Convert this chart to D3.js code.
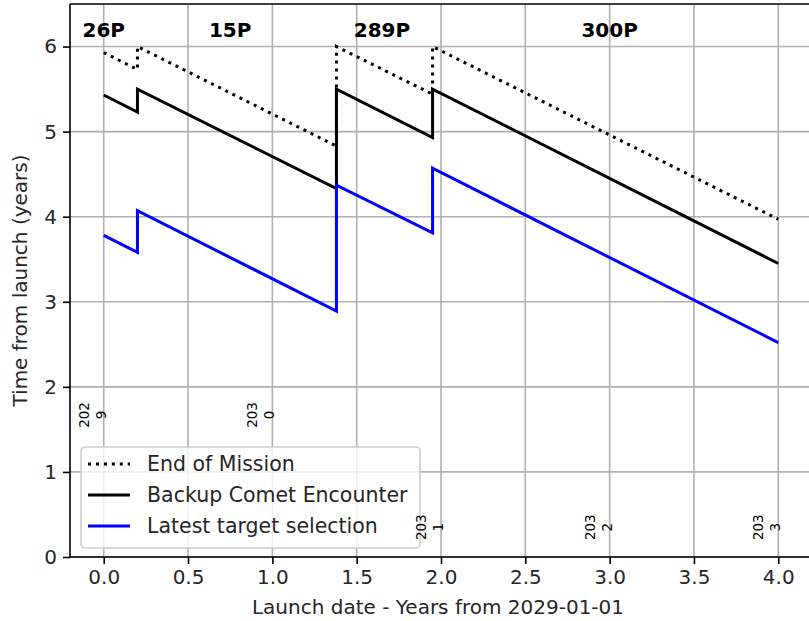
<!DOCTYPE html>
<html>
<head>
<meta charset="utf-8">
<script src="https://cdnjs.cloudflare.com/ajax/libs/d3/7.8.5/d3.min.js"></script>
<style>
  body { margin: 0; background: #fff; }
  svg { font-family: 'DejaVu Sans', sans-serif; }
</style>
</head>
<body>
<div id="chart"></div>
<script>
// launch date (years from 2029-01-01), vertical steps repeat the x value
var launchYears = [0, 0.2, 0.2, 1.38, 1.38, 1.95, 1.95, 4.0]
var endOfMission = [5.93, 5.73, 6.0, 4.83, 6.0, 5.44, 6.0, 3.97]
var backupEncounter = [5.43, 5.23, 5.5, 4.33, 5.5, 4.93, 5.5, 3.45]
var latestSelection = [3.78, 3.58, 4.07, 2.89, 4.37, 3.81, 4.57, 2.52]

var cometNames = ['26P', '15P', '289P', '300P']
var cometX = [0.0, 0.75, 1.65, 3.0]
var cometY = 6.2

var yearNames = ['2029', '2030', '2031', '2032', '2033']
var yearX = [0, 1, 2, 3, 4]
var yearY = [1.67, 1.67, 0.35, 0.35, 0.35]

var xTicks = [0, 0.5, 1, 1.5, 2, 2.5, 3, 3.5, 4]
var yTicks = [0, 1, 2, 3, 4, 5, 6]

var seriesNames = ['End of Mission', 'Backup Comet Encounter', 'Latest target selection']

var width = 809, height = 621
var margin = {top: 4, right: -3, bottom: 64, left: 70}

var svg = d3.select('#chart').append('svg').attr('width', width).attr('height', height)

var x_scale = d3.scaleLinear().domain([-0.2, 4.2]).range([margin.left, width - margin.right])
var y_scale = d3.scaleLinear().domain([0, 6.5]).range([height - margin.bottom, margin.top])

var plot = svg.append('g')

// grid
plot.selectAll('.vgrid').data(xTicks).enter().append('line')
  .attr('x1', d => x_scale(d)).attr('x2', d => x_scale(d))
  .attr('y1', y_scale(0)).attr('y2', y_scale(6.5))
  .attr('stroke', '#b0b0b0').attr('stroke-width', 1.6)
plot.selectAll('.hgrid').data(yTicks).enter().append('line')
  .attr('x1', x_scale(-0.2)).attr('x2', x_scale(4.2))
  .attr('y1', d => y_scale(d)).attr('y2', d => y_scale(d))
  .attr('stroke', '#b0b0b0').attr('stroke-width', 1.6)

var line = d3.line().x(d => x_scale(d[0])).y(d => y_scale(d[1]))
function pts(ys) { return launchYears.map((v, i) => [v, ys[i]]) }

plot.append('path').datum(pts(endOfMission)).attr('d', line)
  .attr('fill', 'none').attr('stroke', '#000').attr('stroke-width', 3).attr('stroke-dasharray', '3,4.95')
plot.append('path').datum(pts(backupEncounter)).attr('d', line)
  .attr('fill', 'none').attr('stroke', '#000').attr('stroke-width', 3)
plot.append('path').datum(pts(latestSelection)).attr('d', line)
  .attr('fill', 'none').attr('stroke', '#0000ff').attr('stroke-width', 3)

// comet names
plot.selectAll('.comet').data(cometNames).enter().append('text')
  .attr('x', (d, i) => x_scale(cometX[i])).attr('y', y_scale(cometY))
  .attr('text-anchor', 'middle').attr('dominant-baseline', 'central')
  .style('font-size', '20px').style('font-weight', 'bold').text(d => d)

// axes
var x_axis = d3.axisBottom(x_scale).tickValues(xTicks).tickFormat(d3.format('.1f')).tickSize(7).tickPadding(6)
var y_axis = d3.axisLeft(y_scale).tickValues(yTicks).tickFormat(d3.format('d')).tickSize(7).tickPadding(6)
var gx = svg.append('g').attr('transform', `translate(0,${y_scale(0)})`).call(x_axis)
var gy = svg.append('g').attr('transform', `translate(${x_scale(-0.2)},0)`).call(y_axis)
;[gx, gy].forEach(g => {
  g.select('.domain').remove()
  g.selectAll('line').attr('stroke', '#000').attr('stroke-width', 1.6)
  g.selectAll('text').style('font-size', '20px').style('font-family', 'DejaVu Sans').attr('fill', '#262626')
})

// spines
svg.append('line').attr('x1', x_scale(-0.2)).attr('x2', x_scale(4.2)).attr('y1', y_scale(0)).attr('y2', y_scale(0))
  .attr('stroke', '#000').attr('stroke-width', 1.6)
svg.append('line').attr('x1', x_scale(-0.2)).attr('x2', x_scale(4.2)).attr('y1', y_scale(6.5)).attr('y2', y_scale(6.5))
  .attr('stroke', '#000').attr('stroke-width', 1.6)
svg.append('line').attr('x1', x_scale(-0.2)).attr('x2', x_scale(-0.2)).attr('y1', y_scale(0)).attr('y2', y_scale(6.5))
  .attr('stroke', '#000').attr('stroke-width', 1.6)

svg.append('text').attr('x', (x_scale(-0.2) + x_scale(4.2)) / 2 - 3).attr('y', 614)
  .attr('text-anchor', 'middle').style('font-size', '20px').attr('fill', '#262626')
  .text('Launch date - Years from 2029-01-01')
svg.append('text').attr('transform', `translate(27,${(y_scale(0) + y_scale(6.5)) / 2}) rotate(-90)`)
  .attr('text-anchor', 'middle').style('font-size', '20px').attr('fill', '#262626')
  .text('Time from launch (years)')

// legend
var legend = svg.append('g').attr('transform', 'translate(81,447)')
legend.append('rect').attr('width', 339).attr('height', 101).attr('rx', 4)
  .attr('fill', 'rgba(255,255,255,0.8)').attr('stroke', '#cccccc').attr('stroke-width', 1.6)
var styles = [{c: '#000', dash: '3,4.95'}, {c: '#000', dash: null}, {c: '#0000ff', dash: null}]
var items = legend.selectAll('.item').data(seriesNames).enter().append('g')
  .attr('transform', (d, i) => `translate(0,${17 + i * 31})`)
items.append('line').attr('x1', 7).attr('x2', 49).attr('y1', 0).attr('y2', 0)
  .attr('stroke', (d, i) => styles[i].c).attr('stroke-width', 3)
  .attr('stroke-dasharray', (d, i) => styles[i].dash)
items.append('text').attr('x', 66).attr('y', 0).attr('dominant-baseline', 'central')
  .style('font-size', '20.5px').attr('fill', '#262626').text(d => d)

// rotated year labels, wrapped after three characters, drawn above the legend
var years = svg.selectAll('.year').data(yearNames).enter().append('g')
  .attr('transform', (d, i) => `translate(${x_scale(yearX[i])},${y_scale(yearY[i])}) rotate(-90)`)
years.append('text').attr('x', 0).attr('y', -20).attr('text-anchor', 'middle')
  .attr('dominant-baseline', 'central').style('font-size', '13.5px').text(d => d.slice(0, 3))
years.append('text').attr('x', 0).attr('y', -3).attr('text-anchor', 'middle')
  .attr('dominant-baseline', 'central').style('font-size', '13.5px').text(d => d.slice(3))
</script>
</body>
</html>
